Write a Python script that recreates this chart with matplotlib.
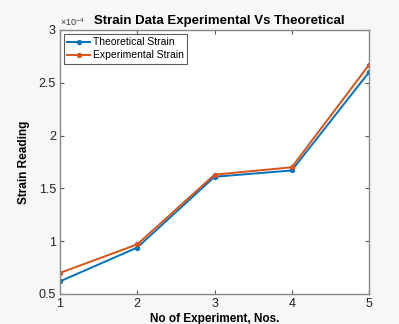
import matplotlib
matplotlib.use("Agg")
import matplotlib.pyplot as plt

experiments = [1, 2, 3, 4, 5]
theoretical = [0.62, 0.94, 1.61, 1.67, 2.60]
experimental = [0.70, 0.97, 1.63, 1.70, 2.67]
yticks = [0.5, 1, 1.5, 2, 2.5, 3]
ytick_labels = ["0.5", "1", "1.5", "2", "2.5", "3"]

plt.rcParams['font.family'] = ['Liberation Sans', 'DejaVu Sans']
plt.rcParams['mathtext.fontset'] = 'custom'
plt.rcParams['mathtext.rm'] = 'Liberation Sans'
fig = plt.figure(figsize=(3.99, 3.24), dpi=100, facecolor='#f7f7f7')
ax = fig.add_axes([60/399, 30/324, 309/399, 264/324])
ax.set_facecolor('white')
ax.plot(experiments, theoretical, color='#0072BD', lw=1.4, marker='o', ms=2.8, label='Theoretical Strain')
ax.plot(experiments, experimental, color='#D95319', lw=1.4, marker='o', ms=2.8, label='Experimental Strain')
ax.set_xlim(1, 5)
ax.set_ylim(0.5, 3)
ax.set_xticks(experiments)
ax.set_yticks(yticks)
ax.set_yticklabels(ytick_labels)
ax.tick_params(direction='in', top=True, right=True, labelsize=9, length=3, color='#555555', labelcolor='#222222', pad=3)
for s in ax.spines.values():
    s.set_color('#888888')
    s.set_linewidth(1.0)
ax.set_xlabel('No of Experiment, Nos.', fontsize=8.5, fontweight='bold', labelpad=2)
ax.set_ylabel('Strain Reading', fontsize=8.5, fontweight='bold', labelpad=6)
ax.set_title('Strain Data Experimental Vs Theoretical', fontsize=9.5, fontweight='bold', pad=4, x=0.515)
ax.text(0.0, 1.008, r'$\mathrm{\times10^{-4}}$', transform=ax.transAxes, fontsize=6.5, color='#333333', ha='left', va='bottom')
leg = ax.legend(loc='upper left', fontsize=7.5, frameon=True, fancybox=False, borderpad=0.3, labelspacing=0.3, handlelength=2.2, handletextpad=0.3, borderaxespad=0.4)
leg.get_frame().set_edgecolor('#333333')
leg.get_frame().set_linewidth(0.8)
fig.savefig('out.png', dpi=100, facecolor=fig.get_facecolor())
